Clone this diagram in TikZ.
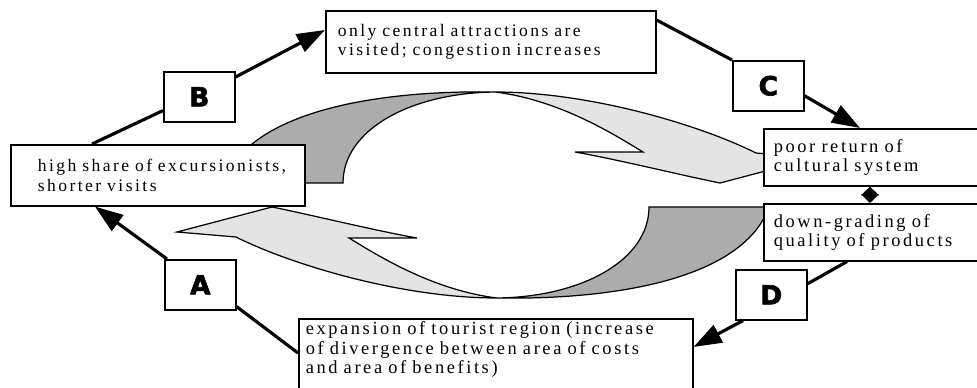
\documentclass[tikz,border=0pt]{standalone}
\usepackage{fontspec}
\setmainfont{Liberation Serif}
\newfontfamily\boxfont[LetterSpace=14]{Liberation Serif}
\newfontfamily\letterfont[BoldFeatures={FakeBold=2.5}]{DejaVu Sans}
\usepackage{tikz}
\usetikzlibrary{arrows.meta}
\definecolor{darkshade}{RGB}{172,172,172}
\definecolor{lightshade}{RGB}{228,228,228}
\tikzset{
  statebox/.style={rectangle, draw, line width=0.9pt, fill=white, anchor=north west, align=left, font=\boxfont\fontsize{10}{11}\selectfont},
  widebox/.style={statebox, font=\boxfont\fontsize{10.5}{11}\selectfont},
  letterbox/.style={rectangle, draw, line width=0.9pt, fill=white, anchor=north west, minimum width=1.42cm, minimum height=1.0cm, inner sep=0pt, font=\letterfont\bfseries\fontsize{15}{15}\selectfont},
  link/.style={line width=1.8pt},
  arrow/.style={-{Triangle[length=16pt,width=11pt]}, line width=1.8pt},
  diamondlink/.style={{Triangle[length=5pt,width=10pt]}-{Triangle[length=5pt,width=10pt]}, line width=1pt},
  cyclearrow/.style={draw=black, line width=0.7pt},
}
% one half of the central cycle (tail dark, head light)
\newcommand{\cyclehalf}{%
  \filldraw[cyclearrow, fill=darkshade] (225,178) .. controls (255,110) and (380,90) .. (495,92)
    .. controls (410,93) and (343,130) .. (343,183) -- (220,183) -- cycle;
  \filldraw[cyclearrow, fill=lightshade] (495,92) .. controls (590,92) and (700,125) .. (756,153)
    -- (815,158) -- (720,183) .. controls (680,175) and (620,160) .. (575,152) -- (643,152)
    .. controls (615,135) and (560,100) .. (495,92) -- cycle;
}

\begin{document}
\begin{tikzpicture}[x=0.02cm, y=-0.02cm]
  \useasboundingbox (0,0) rectangle (977,388);

  % Central cycle
  \cyclehalf
  \begin{scope}[rotate around={180:(496,195)}]
    \cyclehalf
  \end{scope}

  % Stages
  \node[statebox, text width=6.12cm, inner xsep=0.24cm, minimum height=1.24cm] (visit) at (325,10) {only central attractions are\\visited; congestion increases};
  \node[statebox, text width=4.8cm, inner xsep=0.54cm, minimum height=1.22cm] (share) at (10,144) {high share of excursionists,\\shorter visits};
  \node[widebox, text width=4.14cm, inner xsep=0.2cm, minimum height=1.14cm] (return) at (763,128) {poor return of\\cultural system};
  \node[widebox, text width=4.14cm, inner xsep=0.2cm, minimum height=1.14cm] (grade) at (763,203) {down-grading of\\quality of products};
  \node[widebox, text width=7.6cm, inner xsep=0.14cm, inner ysep=0.06cm, text depth=1.2cm] (expand) at (298,318) {expansion of tourist region (increase\\of divergence between area of costs\\and area of benefits)};

  % Letters
  \node[letterbox] (stepA) at (164,259) {A};
  \node[letterbox] (stepB) at (163,71) {B};
  \node[letterbox] (stepC) at (732,60) {C};
  \node[letterbox] (stepD) at (735,269) {D};

  % B
  \draw[link] ([xshift=1.64cm]share.north west) -- ([yshift=0.24cm]stepB.south west);
  \draw[arrow] ([yshift=-0.12cm]stepB.north east) -- ([yshift=-0.4cm]visit.north west);
  % C
  \draw[link] ([yshift=-0.2cm]visit.north east) -- (stepC.north west);
  \draw[arrow] ([yshift=-0.2cm]stepC.east) -- ([xshift=1.94cm]return.north west);
  \draw[diamondlink] ([xshift=2.14cm]grade.north west) -- ([xshift=2.14cm]return.south west);
  % D
  \draw[link] ([xshift=1.68cm]grade.south west) -- ([yshift=0.22cm]stepD.east);
  \draw[arrow] ([xshift=0.16cm]stepD.south west) -- ([yshift=-0.58cm]expand.north east);
  % A
  \draw[link] ([yshift=-0.7cm]expand.north west) -- ([yshift=0.08cm]stepA.south east);
  \draw[arrow] ([xshift=0.06cm]stepA.north west) -- ([xshift=1.7cm]share.south west);

\end{tikzpicture}
\end{document}
